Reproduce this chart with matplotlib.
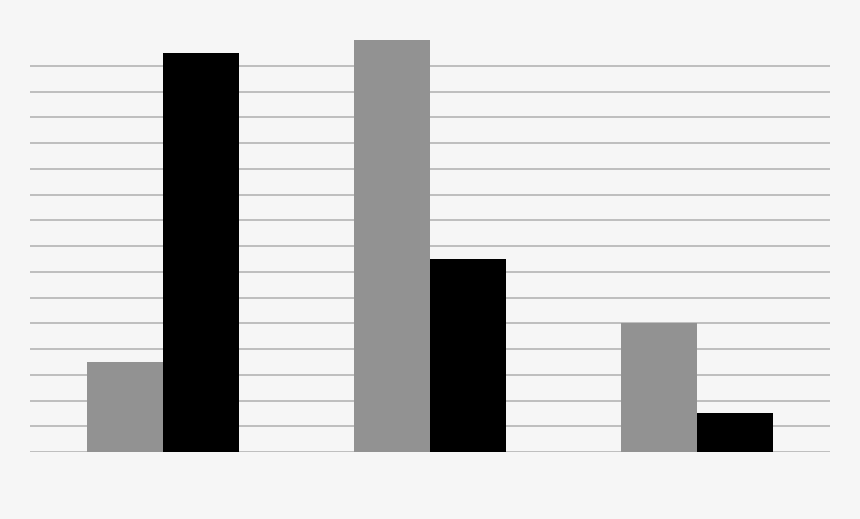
import matplotlib
matplotlib.use("Agg")
import matplotlib.pyplot as plt
import numpy as np

categories = ["A", "B", "C"]
grey_values = [3.5, 16.0, 5.0]
black_values = [15.5, 7.5, 1.5]

bg = "#f6f6f6"
fig = plt.figure(figsize=(8.6, 5.19), dpi=100, facecolor=bg)
ax = fig.add_axes([30 / 860, (519 - 452) / 519, 800 / 860, (452 - 40) / 519])
ax.set_facecolor(bg)

x = np.arange(len(categories))
width = 0.285
ax.bar(x - width / 2, grey_values, width, color="#929292", zorder=3)
ax.bar(x + width / 2, black_values, width, color="#000000", zorder=3)

ax.set_xlim(-0.5, 2.5)
ax.set_ylim(0, 16)
for v in range(0, 16):
    ax.axhline(v, color="#b4b4b4", linewidth=1.2, zorder=1)

for s in ax.spines.values():
    s.set_visible(False)
ax.set_xticks([])
ax.set_yticks([])

fig.savefig("out.png", dpi=100, facecolor=bg)
